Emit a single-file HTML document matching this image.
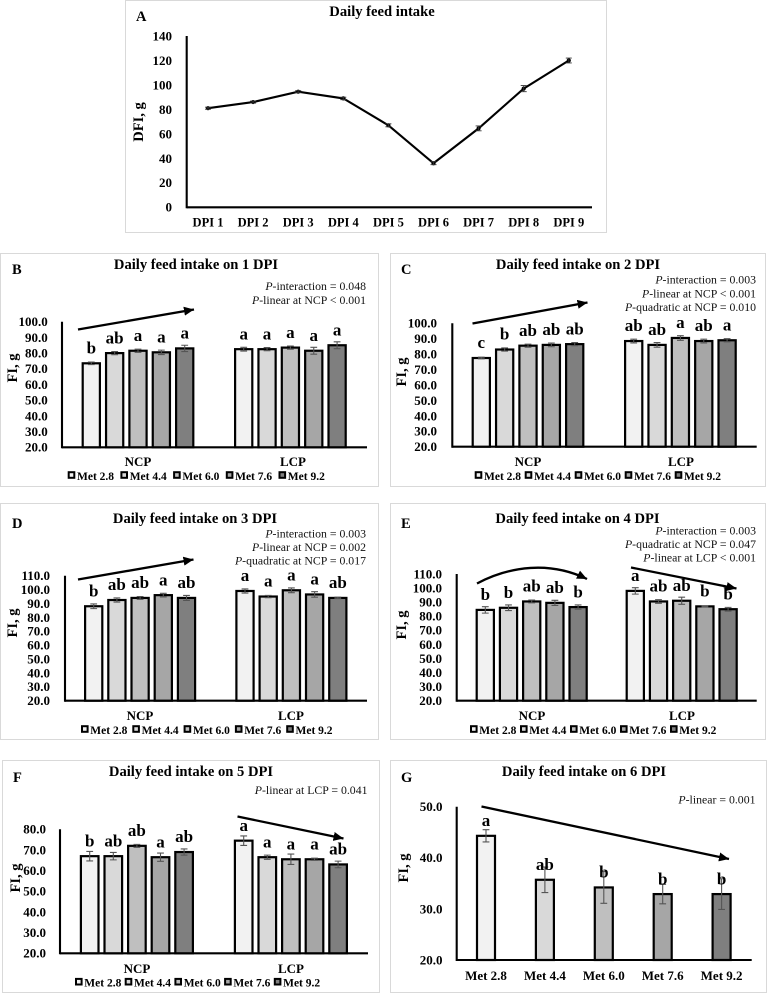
<!DOCTYPE html>
<html lang="en">
<head>
<meta charset="utf-8">
<title>Daily feed intake figure</title>
<style>
html,body{margin:0;padding:0;background:#fff;width:768px;height:993px;overflow:hidden}
svg{display:block;filter:blur(0.35px)}
text{font-family:"Liberation Serif",serif;fill:#000}
.title{font-size:14.6px;font-weight:bold;text-anchor:middle}
.letter{font-size:14.5px;font-weight:bold}
.ptext{font-size:11.8px;text-anchor:end;fill:#111}
.ptext tspan{font-style:italic}
.ytitle{font-size:14.5px;font-weight:bold;text-anchor:middle}
.group{font-size:13px;font-weight:bold;text-anchor:middle}
.frame{fill:#fff;stroke:#d9d9d9;stroke-width:1}
.arrow{fill:none;stroke:#000;stroke-width:2.3;marker-end:url(#arrow-head)}
</style>
</head>
<body>
<svg id="figure" width="768" height="993" viewBox="0 0 768 993" xmlns="http://www.w3.org/2000/svg">
<defs>
<marker id="arrow-head" markerUnits="userSpaceOnUse" markerWidth="11" markerHeight="10" refX="10" refY="4.5" orient="auto">
<path d="M0,0 L10,4.5 L0,9 Z" fill="#000"/>
</marker>
</defs>

<g id="panel-a">
<rect class="frame" x="125.5" y="0.5" width="481" height="232"/>
<text class="letter" x="136" y="21">A</text>
<text class="title" x="382" y="16">Daily feed intake</text>
<text class="ytitle" transform="translate(143,122) rotate(-90)">DFI, g</text>
</g>

<g id="panel-b">
<rect class="frame" x="0.5" y="253.5" width="378" height="233"/>
<text class="letter" x="12" y="274">B</text>
<text class="title" x="196" y="269">Daily feed intake on 1 DPI</text>
<text class="ptext" x="366" y="290"><tspan>P</tspan>-interaction = 0.048</text>
<text class="ptext" x="366" y="304"><tspan>P</tspan>-linear at NCP &lt; 0.001</text>
<text class="ytitle" transform="translate(17,368) rotate(-90)">FI, g</text>
<text class="group" x="138" y="466">NCP</text>
<text class="group" x="293" y="466">LCP</text>
<path class="arrow" d="M78,329.5 L194,309.5"/>
</g>

<g id="panel-c">
<rect class="frame" x="390.5" y="253.5" width="375" height="233"/>
<text class="letter" x="401" y="274">C</text>
<text class="title" x="578" y="269">Daily feed intake on 2 DPI</text>
<text class="ptext" x="756" y="283.5"><tspan>P</tspan>-interaction = 0.003</text>
<text class="ptext" x="756" y="297.5"><tspan>P</tspan>-linear at NCP &lt; 0.001</text>
<text class="ptext" x="756" y="311"><tspan>P</tspan>-quadratic at NCP = 0.010</text>
<text class="ytitle" transform="translate(406,372) rotate(-90)">FI, g</text>
<text class="group" x="528" y="466">NCP</text>
<text class="group" x="681" y="466">LCP</text>
<path class="arrow" d="M472.5,323.5 L587.5,302.5"/>
</g>

<g id="panel-d">
<rect class="frame" x="0.5" y="503.5" width="378" height="236"/>
<text class="letter" x="12" y="528">D</text>
<text class="title" x="195" y="523">Daily feed intake on 3 DPI</text>
<text class="ptext" x="366" y="537.5"><tspan>P</tspan>-interaction = 0.003</text>
<text class="ptext" x="366" y="551"><tspan>P</tspan>-linear at NCP = 0.002</text>
<text class="ptext" x="366" y="564.5"><tspan>P</tspan>-quadratic at NCP = 0.017</text>
<text class="ytitle" transform="translate(17,623) rotate(-90)">FI, g</text>
<text class="group" x="140" y="720">NCP</text>
<text class="group" x="291" y="720">LCP</text>
<path class="arrow" d="M78,579.5 L193.5,559.5"/>
</g>

<g id="panel-e">
<rect class="frame" x="390.5" y="503.5" width="375" height="236"/>
<text class="letter" x="401" y="528">E</text>
<text class="title" x="577.5" y="523">Daily feed intake on 4 DPI</text>
<text class="ptext" x="756" y="534.5"><tspan>P</tspan>-interaction = 0.003</text>
<text class="ptext" x="756" y="548"><tspan>P</tspan>-quadratic at NCP = 0.047</text>
<text class="ptext" x="756" y="561.5"><tspan>P</tspan>-linear at LCP &lt; 0.001</text>
<text class="ytitle" transform="translate(406,625) rotate(-90)">FI, g</text>
<text class="group" x="532" y="720">NCP</text>
<text class="group" x="682" y="720">LCP</text>
<path class="arrow" d="M477,583.5 C510,566 550,561 587,579"/>
<path class="arrow" d="M631,567.5 L736.5,588.5"/>
</g>

<g id="panel-f">
<rect class="frame" x="2.5" y="760.5" width="377" height="232"/>
<text class="letter" x="13" y="782">F</text>
<text class="title" x="191" y="776">Daily feed intake on 5 DPI</text>
<text class="ptext" x="367.5" y="794"><tspan>P</tspan>-linear at LCP = 0.041</text>
<text class="ytitle" transform="translate(20,878) rotate(-90)">FI, g</text>
<text class="group" x="137" y="973">NCP</text>
<text class="group" x="291" y="973">LCP</text>
<path class="arrow" d="M237.5,816.5 L343.5,838.5"/>
</g>

<g id="panel-g">
<rect class="frame" x="390.5" y="760.5" width="376" height="232"/>
<text class="letter" x="401" y="782">G</text>
<text class="title" x="584" y="776">Daily feed intake on 6 DPI</text>
<text class="ptext" x="755.5" y="803.5"><tspan>P</tspan>-linear = 0.001</text>
<text class="ytitle" transform="translate(408,868) rotate(-90)">FI, g</text>
<path class="arrow" d="M481.5,806.5 L729,859"/>
</g>
</svg>

<script>
// Shared categories and tick labels
const treatments = ['Met 2.8', 'Met 4.4', 'Met 6.0', 'Met 7.6', 'Met 9.2'];
const fills = ['#f2f2f2', '#d9d9d9', '#bfbfbf', '#a6a6a6', '#7f7f7f'];
const ticksA = ['0', '20', '40', '60', '80', '100', '120', '140'];
const ticksB = ['20.0', '30.0', '40.0', '50.0', '60.0', '70.0', '80.0', '90.0', '100.0'];
const ticksC = ['20.0', '30.0', '40.0', '50.0', '60.0', '70.0', '80.0', '90.0', '100.0'];
const ticksD = ['20.0', '30.0', '40.0', '50.0', '60.0', '70.0', '80.0', '90.0', '100.0', '110.0'];
const ticksE = ['20.0', '30.0', '40.0', '50.0', '60.0', '70.0', '80.0', '90.0', '100.0', '110.0'];
const ticksF = ['20.0', '30.0', '40.0', '50.0', '60.0', '70.0', '80.0'];
const ticksG = ['20.0', '30.0', '40.0', '50.0'];

// Panel A
const daysA = ['DPI 1', 'DPI 2', 'DPI 3', 'DPI 4', 'DPI 5', 'DPI 6', 'DPI 7', 'DPI 8', 'DPI 9'];
const valuesA = [81, 86, 94.5, 89, 67, 36, 64.5, 97, 120];
const errorsA = [0.8, 0.8, 0.8, 1, 1.2, 1.2, 2, 2.5, 2];

// Panel B
const ncpB = [73.5, 80, 81.5, 80.5, 83];
const ncpErrB = [0.8, 1, 1, 1.4, 2];
const ncpLettersB = ['b', 'ab', 'a', 'a', 'a'];
const lcpB = [82.5, 82.5, 83.5, 81.5, 85];
const lcpErrB = [1.2, 1, 1, 2.2, 2.2];
const lcpLettersB = ['a', 'a', 'a', 'a', 'a'];

// Panel C
const ncpC = [77.5, 83, 85.5, 86, 86.5];
const ncpErrC = [0.5, 1, 1, 1.2, 1];
const ncpLettersC = ['c', 'b', 'ab', 'ab', 'ab'];
const lcpC = [88.5, 86, 90.5, 88.5, 89];
const lcpErrC = [1.2, 1.5, 1.5, 1.2, 1];
const lcpLettersC = ['ab', 'ab', 'a', 'ab', 'a'];

// Panel D
const ncpD = [88, 92.5, 94, 96, 94];
const ncpErrD = [1.7, 1.5, 1, 1.3, 1.8];
const ncpLettersD = ['b', 'ab', 'ab', 'a', 'ab'];
const lcpD = [99, 95, 99.5, 96.5, 94];
const lcpErrD = [1.5, 0.8, 1.7, 2, 0.5];
const lcpLettersD = ['a', 'a', 'a', 'a', 'ab'];

// Panel E
const ncpE = [84.5, 86, 90.5, 89.5, 86.5];
const ncpErrE = [2.3, 2, 1, 1.8, 1.5];
const ncpLettersE = ['b', 'b', 'ab', 'ab', 'b'];
const lcpE = [98, 90.5, 91, 87, 85];
const lcpErrE = [2.3, 1.3, 2.5, 0.3, 1.3];
const lcpLettersE = ['a', 'ab', 'ab', 'b', 'b'];

// Panel F
const ncpF = [67, 67, 72, 66.5, 69];
const ncpErrF = [2.3, 1.8, 0.7, 2, 1.5];
const ncpLettersF = ['b', 'ab', 'ab', 'a', 'ab'];
const lcpF = [74.5, 66.5, 65.5, 65.5, 63];
const lcpErrF = [2.3, 1, 2.5, 0.5, 1.6];
const lcpLettersF = ['a', 'a', 'a', 'a', 'ab'];

// Panel G
const valuesG = [44.3, 35.7, 34.2, 32.9, 32.9];
const errorsG = [1.2, 2.5, 3.1, 1.9, 3];
const lettersG = ['a', 'ab', 'b', 'b', 'b'];

const NS = 'http://www.w3.org/2000/svg';

function make(parent, tag, attrs, text) {
  const node = document.createElementNS(NS, tag);
  for (const key in attrs) node.setAttribute(key, attrs[key]);
  if (text !== undefined) node.textContent = text;
  parent.appendChild(node);
  return node;
}

function yScaleFrom(tickLabels, base, top) {
  const min = parseFloat(tickLabels[0]);
  const max = parseFloat(tickLabels[tickLabels.length - 1]);
  return function (v) { return base - (v - min) / (max - min) * (base - top); };
}

function drawAxes(g, tickLabels, y, geo) {
  const yAxis = make(g, 'line', { x1: geo.axisX, x2: geo.axisX, y1: geo.top, y2: geo.base + 1, stroke: '#000', 'stroke-width': 2.1 });
  
  
  const xAxis = make(g, 'line', { x1: geo.axisX, x2: geo.xEnd, y1: geo.base, y2: geo.base, stroke: '#000', 'stroke-width': 2.1 });
  
  
  tickLabels.forEach(function (label) {
    const t = make(g, 'text', { x: geo.tickRight, y: y(parseFloat(label)) + 4.4, 'text-anchor': 'end', 'font-size': geo.tickSize || 13, 'font-weight': 'bold' }, label);
    
    
  });
}

function drawBar(g, cx, value, err, letter, fill, y, geo) {
  const w = geo.barW;
  const bar = make(g, 'rect', { x: cx - w / 2, y: y(value), width: w, height: geo.base - y(value), fill: fill, stroke: '#000', 'stroke-width': 2.2 });
  
  
  const hi = y(value + err);
  const lo = y(value - err);
  const errLine = make(g, 'path', { d: 'M' + cx + ',' + hi + 'V' + lo + 'M' + (cx - 3.4) + ',' + hi + 'h6.8M' + (cx - 3.4) + ',' + lo + 'h6.8', fill: 'none', stroke: '#555', 'stroke-width': 1.1 });
  
  
  const label = make(g, 'text', { x: cx, y: y(value) - 9.8, 'text-anchor': 'middle', 'font-size': 17, 'font-weight': 'bold' }, letter);
  
  
}

function drawLegend(g, geo) {
  treatments.forEach(function (name, i) {
    const sx = geo.legendX + i * geo.legendStep;
    const swatch = make(g, 'rect', { x: sx + 1, y: geo.legendY - 7.8, width: 5.6, height: 5.6, fill: fills[i], stroke: '#000', 'stroke-width': 2 });
    
    
    const label = make(g, 'text', { x: sx + 9.3, y: geo.legendY, 'font-size': 11.5, 'font-weight': 'bold' }, name);
    
    
  });
}

function drawGrouped(id, tickLabels, ncp, ncpErr, ncpLetters, lcp, lcpErr, lcpLetters, geo) {
  const g = document.getElementById(id);
  const y = yScaleFrom(tickLabels, geo.base, geo.top);
  const anchor = g.querySelector('.arrow');
  const layer = make(g, 'g', {});
  
  
  g.insertBefore(layer, anchor);
  drawAxes(layer, tickLabels, y, geo);
  ncp.forEach(function (v, i) {
    drawBar(layer, geo.ncpX + i * geo.step, v, ncpErr[i], ncpLetters[i], fills[i], y, geo);
  });
  lcp.forEach(function (v, i) {
    drawBar(layer, geo.lcpX + i * geo.step, v, lcpErr[i], lcpLetters[i], fills[i], y, geo);
  });
  drawLegend(g, geo);
}

function drawLine() {
  const geo = { axisX: 186.7, xEnd: 592, top: 36, base: 207.3, tickRight: 172, tickSize: 13, firstX: 208, step: 45.1 };
  const g = document.getElementById('panel-a');
  const y = yScaleFrom(ticksA, geo.base, geo.top);
  drawAxes(g, ticksA, y, geo);
  const pts = valuesA.map(function (v, i) { return (geo.firstX + i * geo.step) + ',' + y(v); }).join(' ');
  const line = make(g, 'polyline', { points: pts, fill: 'none', stroke: '#000', 'stroke-width': 2.1 });
  
  
  valuesA.forEach(function (v, i) {
    const cx = geo.firstX + i * geo.step;
    const dot = make(g, 'circle', { cx: cx, cy: y(v), r: 2.1, fill: '#000' });
    
    
    const hi = y(v + errorsA[i]);
    const lo = y(v - errorsA[i]);
    const err = make(g, 'path', { d: 'M' + (cx - 3) + ',' + hi + 'h6M' + (cx - 3) + ',' + lo + 'h6M' + cx + ',' + hi + 'V' + lo, fill: 'none', stroke: '#333', 'stroke-width': 0.9 });
    
    
  });
  daysA.forEach(function (day, i) {
    const t = make(g, 'text', { x: geo.firstX + i * geo.step, y: 226.5, 'text-anchor': 'middle', 'font-size': 12.5, 'font-weight': 'bold' }, day);
    
    
  });
}

function drawSingle() {
  const geo = { axisX: 456.7, xEnd: 751.7, top: 806.7, base: 960, tickRight: 442.5, firstX: 486, step: 58.9, barW: 18 };
  const g = document.getElementById('panel-g');
  const y = yScaleFrom(ticksG, geo.base, geo.top);
  const anchor = g.querySelector('.arrow');
  const layer = make(g, 'g', {});
  
  
  g.insertBefore(layer, anchor);
  drawAxes(layer, ticksG, y, geo);
  valuesG.forEach(function (v, i) {
    const cx = geo.firstX + i * geo.step;
    drawBar(layer, cx, v, errorsG[i], lettersG[i], fills[i], y, geo);
    const t = make(layer, 'text', { x: cx, y: 980, 'text-anchor': 'middle', 'font-size': 13, 'font-weight': 'bold' }, treatments[i]);
    
    
  });
}

drawLine();
drawGrouped('panel-b', ticksB, ncpB, ncpErrB, ncpLettersB, lcpB, lcpErrB, lcpLettersB,
  { axisX: 62, xEnd: 367, top: 321.7, base: 447.3, tickRight: 47.7, ncpX: 91.3, lcpX: 243.7, step: 23.35, barW: 17.2, legendX: 67.7, legendStep: 52.7, legendY: 480 });
drawGrouped('panel-c', ticksC, ncpC, ncpErrC, ncpLettersC, lcpC, lcpErrC, lcpLettersC,
  { axisX: 452.3, xEnd: 756.7, top: 323.3, base: 446.7, tickRight: 437, ncpX: 481.3, lcpX: 633.7, step: 23.35, barW: 17.2, legendX: 474.7, legendStep: 50, legendY: 480 });
drawGrouped('panel-d', ticksD, ncpD, ncpErrD, ncpLettersD, lcpD, lcpErrD, lcpLettersD,
  { axisX: 65, xEnd: 367, top: 575.7, base: 700.7, tickRight: 50, ncpX: 93.7, lcpX: 245, step: 23.2, barW: 17.2, legendX: 81, legendStep: 51.3, legendY: 734 });
drawGrouped('panel-e', ticksE, ncpE, ncpErrE, ncpLettersE, lcpE, lcpErrE, lcpLettersE,
  { axisX: 456.7, xEnd: 756.7, top: 574, base: 700.7, tickRight: 442, ncpX: 485.3, lcpX: 635.3, step: 23.2, barW: 17.2, legendX: 470, legendStep: 50, legendY: 734 });
drawGrouped('panel-f', ticksF, ncpF, ncpErrF, ncpLettersF, lcpF, lcpErrF, lcpLettersF,
  { axisX: 60, xEnd: 368, top: 829.3, base: 953.3, tickRight: 46, ncpX: 89.7, lcpX: 243.7, step: 23.6, barW: 17.6, legendX: 75, legendStep: 49.7, legendY: 986.7 });
drawSingle();
</script>
</body>
</html>
